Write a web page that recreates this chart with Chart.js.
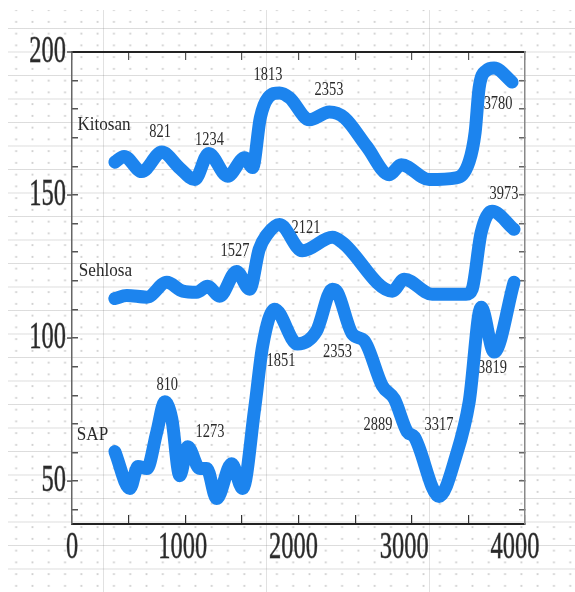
<!DOCTYPE html>
<html>
<head>
<meta charset="utf-8">
<script src="https://cdn.jsdelivr.net/npm/chart.js@4.4.0/dist/chart.umd.min.js"></script>
<style>
    html, body { margin: 0; padding: 0; background: #fff; }
    #paper {
        position: absolute; left: 8px; top: 10px; width: 567px; height: 582px;
        background-image:
            linear-gradient(to bottom, rgba(110, 110, 110, 0.24) 1px, transparent 1px),
            linear-gradient(to right, rgba(120, 120, 120, 0.22) 1px, transparent 1px),
            radial-gradient(circle, rgba(150, 150, 150, 0.45) 0.8px, transparent 1.3px);
        background-size: 100% 23.5px, 163px 100%, 16.3px 11.75px;
        background-position: 0 18px, 95px 0, 0 6px;
    }
    #wrap { position: absolute; left: 0; top: 0; width: 575px; height: 592px; }
</style>
</head>
<body>
<div id="paper"></div>
<div id="wrap"><canvas id="myChart" width="575" height="592"></canvas></div>
<script>
// curves
const kitosanX = [387, 470, 630, 811, 973, 1108, 1234, 1405, 1559, 1630, 1700, 1770, 1874, 1964, 2144, 2324, 2459, 2660, 2865, 2973, 3225, 3468, 3586, 3640, 3676, 3740, 3811, 3973];
const kitosanY = [161.5, 163.5, 158.2, 165.0, 159.4, 155.4, 164.5, 156.6, 163.0, 159.6, 177.0, 184.0, 185.7, 184.0, 176.3, 179.0, 177.0, 167.0, 157.1, 160.6, 155.4, 156.0, 161.7, 172.0, 187.5, 193.5, 194.4, 189.5];

const sehlosaX = [387, 495, 676, 856, 1000, 1126, 1225, 1333, 1486, 1604, 1690, 1757, 1874, 2080, 2351, 2441, 2892, 3000, 3252, 3559, 3613, 3694, 3793, 3991];
const sehlosaY = [113.8, 114.9, 114.3, 119.5, 116.4, 116.0, 118.1, 114.6, 123.3, 117.1, 131.0, 136.0, 139.7, 130.5, 135.2, 133.4, 116.4, 120.6, 115.3, 115.3, 117.1, 136.9, 144.3, 138.0];

const sapX = [387, 523, 595, 676, 766, 838, 901, 973, 1045, 1153, 1216, 1306, 1441, 1541, 1649, 1721, 1829, 2036, 2207, 2351, 2396, 2532, 2640, 2802, 2910, 3027, 3090, 3315, 3468, 3586, 3694, 3811, 3991];
const sapY = [60.3, 47.4, 55.1, 54.4, 67.2, 77.7, 71.8, 51.9, 62.0, 54.4, 54.4, 43.9, 56.1, 47.4, 75.3, 97.2, 110.1, 97.9, 102.4, 117.1, 116.0, 101.4, 99.0, 83.3, 78.7, 67.2, 65.5, 44.6, 58.9, 77.7, 110.8, 95.1, 119.5];

// axis labels
const xTickLabels = [0, 1000, 2000, 3000, 4000];
const yTickLabels = [50, 100, 150, 200];

// notes written on the plot (data units)
const noteText = ["Kitosan", "821", "1234", "1813", "2353", "3780", "Sehlosa", "1527", "2121", "3973", "SAP", "810", "1273", "1851", "2353", "2889", "3317", "3819"];
const noteX = [289, 795, 1242, 1770, 2320, 3847, 302, 1472, 2113, 3900, 185, 860, 1246, 1887, 2397, 2763, 3314, 3797];
const noteY = [174.6, 171.9, 169.3, 192.0, 186.6, 181.7, 123.3, 130.6, 138.6, 150.5, 66.2, 83.6, 67.3, 92.0, 95.2, 69.7, 69.7, 89.6];

const toPoints = (xs, ys) => xs.map((x, i) => ({ x, y: ys[i] }));

const lineStyle = {
    borderColor: "#1c84ee",
    backgroundColor: "#1c84ee",
    borderWidth: 13,
    pointRadius: 0,
    borderCapStyle: "round",
    borderJoinStyle: "round",
    cubicInterpolationMode: "monotone",
    fill: false,
};

// squeezed serif text, like the scanned figure
function squeezed(ctx, txt, px, py, sx, outline) {
    ctx.save();
    ctx.translate(px, py);
    ctx.scale(sx, 1);
    ctx.fillText(txt, 0, 0);
    if (outline) ctx.strokeText(txt, 0, 0);
    ctx.restore();
}

const notesPlugin = {
    id: "notes",
    beforeDatasetsDraw(chart) {
        const ctx = chart.ctx;
        const xs = chart.scales.x, ys = chart.scales.y;
        ctx.save();
        ctx.fillStyle = "#2a2a2a";
        ctx.textAlign = "center";
        ctx.textBaseline = "middle";
        ctx.font = '19px "Liberation Serif"';
        noteText.forEach((t, i) => {
            const sx = /\d/.test(t) ? 0.76 : 0.9;
            squeezed(ctx, t, xs.getPixelForValue(noteX[i]), ys.getPixelForValue(noteY[i]), sx, false);
        });
        ctx.restore();
    },
    afterDraw(chart) {
        const ctx = chart.ctx;
        const xs = chart.scales.x, ys = chart.scales.y;
        const area = chart.chartArea;
        ctx.save();
        ctx.fillStyle = "#2a2a2a";
        ctx.strokeStyle = "rgba(40,40,40,0.6)";
        ctx.lineWidth = 0.8;
        ctx.font = '37px "Liberation Serif"';
        ctx.textBaseline = "middle";
        ctx.textAlign = "center";
        xTickLabels.forEach((v) => squeezed(ctx, String(v), xs.getPixelForValue(v), area.bottom + 24, 0.66, true));
        ctx.textAlign = "right";
        yTickLabels.forEach((v) => squeezed(ctx, String(v), area.left - 6, ys.getPixelForValue(v), 0.66, true));
        ctx.strokeStyle = "#555";
        ctx.lineWidth = 1.5;
        yTickLabels.forEach((v) => {
            const py = ys.getPixelForValue(v);
            ctx.beginPath();
            ctx.moveTo(area.left - 5, py);
            ctx.lineTo(area.left, py);
            ctx.stroke();
        });
        ctx.restore();
    },
};

const ctx = document.getElementById("myChart");
const myChart = new Chart(ctx, {
    type: "line",
    data: {
        datasets: [
            { label: "Kitosan", data: toPoints(kitosanX, kitosanY), ...lineStyle },
            { label: "Sehlosa", data: toPoints(sehlosaX, sehlosaY), ...lineStyle },
            { label: "SAP", data: toPoints(sapX, sapY), ...lineStyle },
        ],
    },
    options: {
        responsive: false,
        animation: false,
        devicePixelRatio: 1,
        layout: { padding: { top: 52, right: 50, left: 0, bottom: 0 } },
        plugins: { legend: { display: false }, tooltip: { enabled: false } },
        scales: {
            x: {
                type: "linear", position: "bottom", min: 0, max: 4090,
                ticks: { display: false, stepSize: 500 },
                grid: { drawOnChartArea: false, tickLength: -9, color: "#333", lineWidth: 1.2 },
                border: { color: "#222", width: 2 },
                afterFit: (s) => { s.height = 68; },
            },
            x2: {
                type: "linear", position: "top", min: 0, max: 4090,
                ticks: { display: false, stepSize: 500 },
                grid: { drawOnChartArea: false, tickLength: -8, color: "#555", lineWidth: 1.2 },
                border: { color: "#222", width: 2 },
                afterFit: (s) => { s.height = 0; },
            },
            y: {
                type: "linear", position: "left", min: 35, max: 200,
                ticks: { display: false, stepSize: 10 },
                grid: { drawOnChartArea: false, tickLength: -6, color: "#555", lineWidth: 1.5 },
                border: { color: "#666", width: 1.5 },
                afterFit: (s) => { s.width = 72; },
            },
            y2: {
                type: "linear", position: "right", min: 35, max: 200,
                ticks: { display: false, stepSize: 10 },
                grid: { drawOnChartArea: false, tickLength: -6, color: "#666", lineWidth: 1.5 },
                border: { color: "#888", width: 1.5 },
                afterFit: (s) => { s.width = 0; },
            },
        },
    },
    plugins: [notesPlugin],
});
</script>
</body>
</html>
